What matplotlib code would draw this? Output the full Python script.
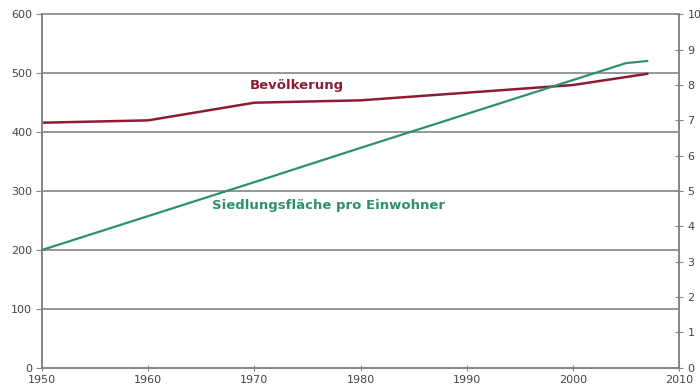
import matplotlib.pyplot as plt

# Bevölkerung (left axis) and Siedlungsfläche pro Einwohner (right axis)
years_pop = [1950, 1960, 1970, 1980, 1990, 2000, 2007]
population = [416, 420, 450, 454, 467, 480, 499]

years_area = [1950, 1960, 1970, 1980, 1990, 2000, 2005, 2007]
area_per_capita = [3.33, 4.29, 5.25, 6.22, 7.18, 8.14, 8.62, 8.68]

left_ticks = [0, 100, 200, 300, 400, 500, 600]
right_ticks = list(range(0, 11))
x_ticks = [1950, 1960, 1970, 1980, 1990, 2000, 2010]

RED = "#8c1c32"
GREEN = "#2e8f6e"
GRAY = "#858585"
TEXT = "#444444"

fig = plt.figure(figsize=(7.0, 3.89), dpi=100)
ax = fig.add_axes([0.06, 0.055, 0.91, 0.908])
ax2 = ax.twinx()

ax.plot(years_pop, population, color=RED, lw=1.8, zorder=3)
ax2.plot(years_area, area_per_capita, color=GREEN, lw=1.6, zorder=3)

ax.set_xlim(1950, 2010)
ax.set_ylim(0, 600)
ax2.set_ylim(0, 10)
ax.set_xticks(x_ticks)
ax.set_yticks(left_ticks)
ax2.set_yticks(right_ticks)

# horizontal gridlines, the top one doubles as the frame edge
for v in left_ticks[1:]:
    ax.axhline(v, color=GRAY, lw=1.2, zorder=1, clip_on=False)

for a in (ax, ax2):
    a.spines["top"].set_visible(False)
    for side in ("left", "right", "bottom"):
        a.spines[side].set_color(GRAY)
        a.spines[side].set_linewidth(1.2)

ax.tick_params(axis="y", direction="out", length=4, color=GRAY,
               labelsize=8, labelcolor=TEXT, pad=3)
ax.tick_params(axis="x", direction="inout", length=5, color=GRAY,
               labelsize=8, labelcolor=TEXT, pad=3)
ax2.tick_params(axis="y", direction="inout", length=6, color=GRAY,
                labelsize=8, labelcolor=TEXT, pad=3)

ax.text(1974, 479, "Bevölkerung", color=RED, fontsize=9.5,
        fontweight="bold", ha="center", va="center")
ax.text(1977, 276, "Siedlungsfläche pro Einwohner", color=GREEN,
        fontsize=9.5, fontweight="bold", ha="center", va="center")

fig.savefig("out.png", dpi=100)
